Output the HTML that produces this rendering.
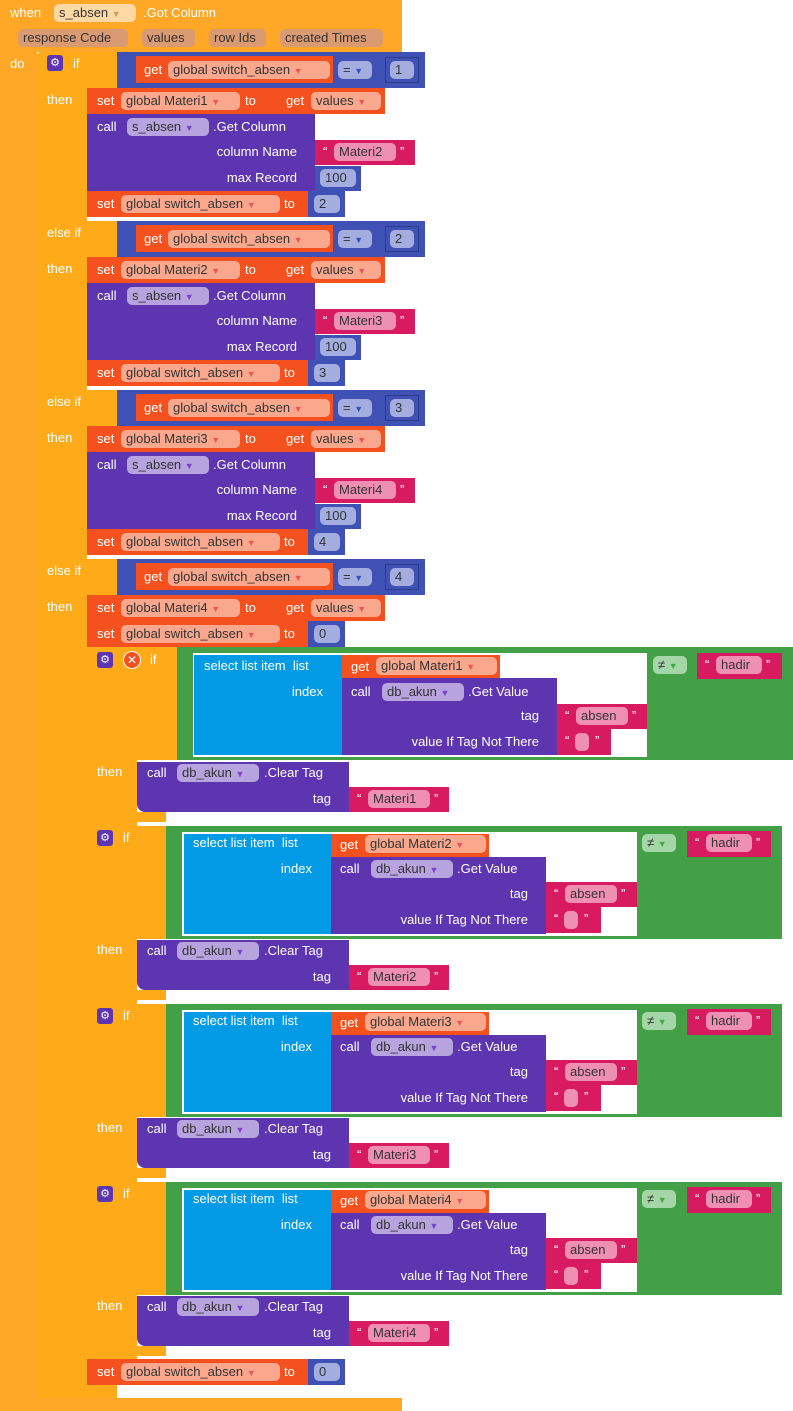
<!DOCTYPE html>
<html><head><meta charset="utf-8"><style>
body{margin:0;width:793px;height:1411px;background:#fff;position:relative;overflow:hidden}
.b{position:absolute;box-sizing:border-box}
.t{position:absolute;color:#fff;font:13px/16px "Liberation Sans",sans-serif;white-space:nowrap}
.p{position:absolute;height:18px;border-radius:5px;font:13px/18px "Liberation Sans",sans-serif;color:#333;padding:0 5px;box-sizing:border-box;white-space:nowrap}
.ev{background:#FFA726}.iff{background:#FFAB19}.rd{background:#F4511E}.bl{background:#3F51B5}.pu{background:#5E35B1}.pk{background:#D81B60}.gr{background:#43A047}.cy{background:#039BE5}
.prd{background:#F9A88E}.pbl{background:#A4ADE0}.ppu{background:#B7A3DD}.ppk{background:#EF90B3}.pgr{background:#A5D6A7}.pev{background:#DA9A72}
.gear{position:absolute;width:16px;height:16px;border-radius:3px;background:#5E35B1;color:#fff;font:11px/16px "DejaVu Sans",sans-serif;text-align:center}
.r{text-align:right}
</style></head><body>
<!-- outer event -->
<div class="b ev" style="left:0;top:0;width:402px;height:52px"></div>
<div class="b ev" style="left:0;top:0;width:37px;height:1411px"></div>
<div class="b ev" style="left:0;top:1398px;width:402px;height:13px"></div>
<div class="t" style="left:10px;top:5px">when</div>
<div class="p" style="left:54px;top:4px;width:82px;background:#FFD9A3">s_absen <span style="font-size:9px;color:#c96">▼</span></div>
<div class="t" style="left:143px;top:5px">.Got Column</div>
<div class="p pev" style="left:18px;top:29px;width:110px">response Code</div>
<div class="p pev" style="left:142px;top:29px;width:53px">values</div>
<div class="p pev" style="left:209px;top:29px;width:57px">row Ids</div>
<div class="p pev" style="left:280px;top:29px;width:103px">created Times</div>
<div class="t" style="left:10px;top:56px">do</div>
<!-- main if -->
<div class="b iff" style="left:37px;top:52px;width:50px;height:1346px;border-radius:4px 0 0 4px"></div>
<div class="b iff" style="left:37px;top:1385px;width:80px;height:13px"></div>
<div class="gear" style="left:47px;top:55px">⚙</div>

<!-- section template repeated -->
<!-- S1 y0=52 -->
<div class="b iff" style="left:87px;top:52px;width:30px;height:36px"></div>
<div class="t" style="left:73px;top:56px">if</div>
<div class="t" style="left:47px;top:92px">then</div>
<div class="b bl" style="left:117px;top:52px;width:308px;height:36px"></div>
<div class="b rd" style="left:136px;top:56px;width:197px;height:27px"></div>
<div class="t" style="left:144px;top:62px">get</div>
<div class="p prd" style="left:168px;top:61px;width:162px">global switch_absen <span style="font-size:9px;color:#e55">▼</span></div>
<div class="p pbl" style="left:338px;top:61px;width:34px">= <span style="font-size:9px;color:#35b">▼</span></div>
<div class="b bl" style="left:385px;top:57px;width:34px;height:26px;border:1px solid #2c3a8a"></div>
<div class="p pbl" style="left:390px;top:61px;width:24px">1</div>
<div class="b rd" style="left:87px;top:88px;width:298px;height:26px"></div>
<div class="t" style="left:97px;top:93px">set</div>
<div class="p prd" style="left:121px;top:92px;width:119px">global Materi1 <span style="font-size:9px;color:#e55">▼</span></div>
<div class="t" style="left:245px;top:93px">to</div>
<div class="t" style="left:286px;top:93px">get</div>
<div class="p prd" style="left:311px;top:92px;width:70px">values <span style="font-size:9px;color:#e55">▼</span></div>
<div class="b pu" style="left:87px;top:114px;width:228px;height:77px"></div>
<div class="t" style="left:97px;top:119px">call</div>
<div class="p ppu" style="left:127px;top:118px;width:82px">s_absen <span style="font-size:9px;color:#74c">▼</span></div>
<div class="t" style="left:213px;top:119px">.Get Column</div>
<div class="t r" style="left:150px;width:147px;top:144px">column Name</div>
<div class="t r" style="left:150px;width:147px;top:170px">max Record</div>
<div class="b pk" style="left:315px;top:140px;width:100px;height:25px"></div>
<div class="t" style="left:323px;top:144px">“</div>
<div class="p ppk" style="left:334px;top:143px;width:62px">Materi2</div>
<div class="t" style="left:400px;top:144px">”</div>
<div class="b bl" style="left:315px;top:166px;width:46px;height:25px"></div>
<div class="p pbl" style="left:320px;top:169px;width:36px">100</div>
<div class="b rd" style="left:87px;top:191px;width:221px;height:26px"></div>
<div class="t" style="left:97px;top:196px">set</div>
<div class="p prd" style="left:121px;top:195px;width:159px">global switch_absen <span style="font-size:9px;color:#e55">▼</span></div>
<div class="t" style="left:284px;top:196px">to</div>
<div class="b bl" style="left:308px;top:191px;width:37px;height:26px"></div>
<div class="p pbl" style="left:314px;top:195px;width:26px">2</div>

<!-- S2 y0=221 -->
<div class="b iff" style="left:87px;top:221px;width:30px;height:36px"></div>
<div class="t" style="left:47px;top:225px">else if</div>
<div class="t" style="left:47px;top:261px">then</div>
<div class="b bl" style="left:117px;top:221px;width:308px;height:36px"></div>
<div class="b rd" style="left:136px;top:225px;width:197px;height:27px"></div>
<div class="t" style="left:144px;top:231px">get</div>
<div class="p prd" style="left:168px;top:230px;width:162px">global switch_absen <span style="font-size:9px;color:#e55">▼</span></div>
<div class="p pbl" style="left:338px;top:230px;width:34px">= <span style="font-size:9px;color:#35b">▼</span></div>
<div class="b bl" style="left:385px;top:226px;width:34px;height:26px;border:1px solid #2c3a8a"></div>
<div class="p pbl" style="left:390px;top:230px;width:24px">2</div>
<div class="b rd" style="left:87px;top:257px;width:298px;height:26px"></div>
<div class="t" style="left:97px;top:262px">set</div>
<div class="p prd" style="left:121px;top:261px;width:119px">global Materi2 <span style="font-size:9px;color:#e55">▼</span></div>
<div class="t" style="left:245px;top:262px">to</div>
<div class="t" style="left:286px;top:262px">get</div>
<div class="p prd" style="left:311px;top:261px;width:70px">values <span style="font-size:9px;color:#e55">▼</span></div>
<div class="b pu" style="left:87px;top:283px;width:228px;height:77px"></div>
<div class="t" style="left:97px;top:288px">call</div>
<div class="p ppu" style="left:127px;top:287px;width:82px">s_absen <span style="font-size:9px;color:#74c">▼</span></div>
<div class="t" style="left:213px;top:288px">.Get Column</div>
<div class="t r" style="left:150px;width:147px;top:313px">column Name</div>
<div class="t r" style="left:150px;width:147px;top:339px">max Record</div>
<div class="b pk" style="left:315px;top:309px;width:100px;height:25px"></div>
<div class="t" style="left:323px;top:313px">“</div>
<div class="p ppk" style="left:334px;top:312px;width:62px">Materi3</div>
<div class="t" style="left:400px;top:313px">”</div>
<div class="b bl" style="left:315px;top:335px;width:46px;height:25px"></div>
<div class="p pbl" style="left:320px;top:338px;width:36px">100</div>
<div class="b rd" style="left:87px;top:360px;width:221px;height:26px"></div>
<div class="t" style="left:97px;top:365px">set</div>
<div class="p prd" style="left:121px;top:364px;width:159px">global switch_absen <span style="font-size:9px;color:#e55">▼</span></div>
<div class="t" style="left:284px;top:365px">to</div>
<div class="b bl" style="left:308px;top:360px;width:37px;height:26px"></div>
<div class="p pbl" style="left:314px;top:364px;width:26px">3</div>

<!-- S3 y0=390 -->
<div class="b iff" style="left:87px;top:390px;width:30px;height:36px"></div>
<div class="t" style="left:47px;top:394px">else if</div>
<div class="t" style="left:47px;top:430px">then</div>
<div class="b bl" style="left:117px;top:390px;width:308px;height:36px"></div>
<div class="b rd" style="left:136px;top:394px;width:197px;height:27px"></div>
<div class="t" style="left:144px;top:400px">get</div>
<div class="p prd" style="left:168px;top:399px;width:162px">global switch_absen <span style="font-size:9px;color:#e55">▼</span></div>
<div class="p pbl" style="left:338px;top:399px;width:34px">= <span style="font-size:9px;color:#35b">▼</span></div>
<div class="b bl" style="left:385px;top:395px;width:34px;height:26px;border:1px solid #2c3a8a"></div>
<div class="p pbl" style="left:390px;top:399px;width:24px">3</div>
<div class="b rd" style="left:87px;top:426px;width:298px;height:26px"></div>
<div class="t" style="left:97px;top:431px">set</div>
<div class="p prd" style="left:121px;top:430px;width:119px">global Materi3 <span style="font-size:9px;color:#e55">▼</span></div>
<div class="t" style="left:245px;top:431px">to</div>
<div class="t" style="left:286px;top:431px">get</div>
<div class="p prd" style="left:311px;top:430px;width:70px">values <span style="font-size:9px;color:#e55">▼</span></div>
<div class="b pu" style="left:87px;top:452px;width:228px;height:77px"></div>
<div class="t" style="left:97px;top:457px">call</div>
<div class="p ppu" style="left:127px;top:456px;width:82px">s_absen <span style="font-size:9px;color:#74c">▼</span></div>
<div class="t" style="left:213px;top:457px">.Get Column</div>
<div class="t r" style="left:150px;width:147px;top:482px">column Name</div>
<div class="t r" style="left:150px;width:147px;top:508px">max Record</div>
<div class="b pk" style="left:315px;top:478px;width:100px;height:25px"></div>
<div class="t" style="left:323px;top:482px">“</div>
<div class="p ppk" style="left:334px;top:481px;width:62px">Materi4</div>
<div class="t" style="left:400px;top:482px">”</div>
<div class="b bl" style="left:315px;top:504px;width:46px;height:25px"></div>
<div class="p pbl" style="left:320px;top:507px;width:36px">100</div>
<div class="b rd" style="left:87px;top:529px;width:221px;height:26px"></div>
<div class="t" style="left:97px;top:534px">set</div>
<div class="p prd" style="left:121px;top:533px;width:159px">global switch_absen <span style="font-size:9px;color:#e55">▼</span></div>
<div class="t" style="left:284px;top:534px">to</div>
<div class="b bl" style="left:308px;top:529px;width:37px;height:26px"></div>
<div class="p pbl" style="left:314px;top:533px;width:26px">4</div>

<!-- S4 y0=559 -->
<div class="b iff" style="left:87px;top:559px;width:30px;height:36px"></div>
<div class="t" style="left:47px;top:563px">else if</div>
<div class="t" style="left:47px;top:599px">then</div>
<div class="b bl" style="left:117px;top:559px;width:308px;height:36px"></div>
<div class="b rd" style="left:136px;top:563px;width:197px;height:27px"></div>
<div class="t" style="left:144px;top:569px">get</div>
<div class="p prd" style="left:168px;top:568px;width:162px">global switch_absen <span style="font-size:9px;color:#e55">▼</span></div>
<div class="p pbl" style="left:338px;top:568px;width:34px">= <span style="font-size:9px;color:#35b">▼</span></div>
<div class="b bl" style="left:385px;top:564px;width:34px;height:26px;border:1px solid #2c3a8a"></div>
<div class="p pbl" style="left:390px;top:568px;width:24px">4</div>
<div class="b rd" style="left:87px;top:595px;width:298px;height:26px"></div>
<div class="t" style="left:97px;top:600px">set</div>
<div class="p prd" style="left:121px;top:599px;width:119px">global Materi4 <span style="font-size:9px;color:#e55">▼</span></div>
<div class="t" style="left:245px;top:600px">to</div>
<div class="t" style="left:286px;top:600px">get</div>
<div class="p prd" style="left:311px;top:599px;width:70px">values <span style="font-size:9px;color:#e55">▼</span></div>
<div class="b rd" style="left:87px;top:621px;width:221px;height:26px"></div>
<div class="t" style="left:97px;top:626px">set</div>
<div class="p prd" style="left:121px;top:625px;width:159px">global switch_absen <span style="font-size:9px;color:#e55">▼</span></div>
<div class="t" style="left:284px;top:626px">to</div>
<div class="b bl" style="left:308px;top:621px;width:37px;height:26px"></div>
<div class="p pbl" style="left:314px;top:625px;width:26px">0</div>

<!-- nested ifs: strip -->
<div class="b iff" style="left:87px;top:647px;width:50px;height:712px"></div>

<!-- N1 T=647 -->
<div class="b iff" style="left:87px;top:647px;width:90px;height:113px"></div>
<div class="b iff" style="left:87px;top:812px;width:79px;height:10px"></div>
<div class="gear" style="left:97px;top:652px">⚙</div>
<div class="b" style="left:123px;top:651px;width:18px;height:18px;border-radius:9px;background:#F4511E;border:1px solid #fff;color:#fff;font:bold 12px/16px 'DejaVu Sans';text-align:center">✕</div>
<div class="t" style="left:150px;top:652px">if</div>
<div class="b gr" style="left:177px;top:647px;width:616px;height:113px"></div>
<div class="b" style="left:193px;top:653px;width:454px;height:104px;background:#fff"></div>
<div class="b cy" style="left:194px;top:655px;width:148px;height:100px"></div>
<div class="t" style="left:204px;top:658px">select list item&nbsp; list</div>
<div class="t r" style="left:200px;width:123px;top:684px">index</div>
<div class="b rd" style="left:342px;top:655px;width:158px;height:23px"></div>
<div class="t" style="left:351px;top:659px">get</div>
<div class="p prd" style="left:376px;top:657px;width:121px">global Materi1 <span style="font-size:9px;color:#e55">▼</span></div>
<div class="b pu" style="left:342px;top:678px;width:215px;height:77px"></div>
<div class="t" style="left:351px;top:684px">call</div>
<div class="p ppu" style="left:382px;top:683px;width:82px">db_akun <span style="font-size:9px;color:#74c">▼</span></div>
<div class="t" style="left:468px;top:684px">.Get Value</div>
<div class="t r" style="left:380px;width:159px;top:708px">tag</div>
<div class="t r" style="left:380px;width:159px;top:734px">value If Tag Not There</div>
<div class="b pk" style="left:557px;top:704px;width:90px;height:25px"></div>
<div class="t" style="left:565px;top:708px">“</div>
<div class="p ppk" style="left:576px;top:707px;width:52px">absen</div>
<div class="t" style="left:632px;top:708px">”</div>
<div class="b pk" style="left:557px;top:729px;width:54px;height:26px"></div>
<div class="t" style="left:565px;top:733px">“</div>
<div class="p ppk" style="left:575px;top:733px;width:14px"></div>
<div class="t" style="left:595px;top:733px">”</div>
<div class="p pgr" style="left:653px;top:656px;width:34px">≠ <span style="font-size:9px;color:#4a4">▼</span></div>
<div class="b pk" style="left:697px;top:653px;width:85px;height:26px"></div>
<div class="t" style="left:705px;top:657px">“</div>
<div class="p ppk" style="left:716px;top:656px;width:46px">hadir</div>
<div class="t" style="left:766px;top:657px">”</div>
<div class="t" style="left:97px;top:764px">then</div>
<div class="b pu" style="left:137px;top:762px;width:212px;height:50px;border-radius:0 0 0 8px"></div>
<div class="t" style="left:147px;top:765px">call</div>
<div class="p ppu" style="left:177px;top:764px;width:82px">db_akun <span style="font-size:9px;color:#74c">▼</span></div>
<div class="t" style="left:264px;top:765px">.Clear Tag</div>
<div class="t r" style="left:250px;width:81px;top:791px">tag</div>
<div class="b pk" style="left:349px;top:787px;width:100px;height:25px"></div>
<div class="t" style="left:357px;top:791px">“</div>
<div class="p ppk" style="left:368px;top:790px;width:62px">Materi1</div>
<div class="t" style="left:434px;top:791px">”</div>

<!-- N2 T=826 -->
<div class="b iff" style="left:87px;top:826px;width:79px;height:113px"></div>
<div class="b iff" style="left:87px;top:990px;width:79px;height:10px"></div>
<div class="gear" style="left:97px;top:830px">⚙</div>
<div class="t" style="left:123px;top:830px">if</div>
<div class="b gr" style="left:166px;top:826px;width:616px;height:113px"></div>
<div class="b" style="left:182px;top:832px;width:455px;height:104px;background:#fff"></div>
<div class="b cy" style="left:184px;top:834px;width:147px;height:100px"></div>
<div class="t" style="left:193px;top:835px">select list item&nbsp; list</div>
<div class="t r" style="left:190px;width:122px;top:861px">index</div>
<div class="b rd" style="left:331px;top:834px;width:158px;height:23px"></div>
<div class="t" style="left:340px;top:837px">get</div>
<div class="p prd" style="left:365px;top:835px;width:121px">global Materi2 <span style="font-size:9px;color:#e55">▼</span></div>
<div class="b pu" style="left:331px;top:857px;width:215px;height:77px"></div>
<div class="t" style="left:340px;top:861px">call</div>
<div class="p ppu" style="left:371px;top:860px;width:82px">db_akun <span style="font-size:9px;color:#74c">▼</span></div>
<div class="t" style="left:457px;top:861px">.Get Value</div>
<div class="t r" style="left:370px;width:158px;top:886px">tag</div>
<div class="t r" style="left:370px;width:158px;top:912px">value If Tag Not There</div>
<div class="b pk" style="left:546px;top:882px;width:91px;height:25px"></div>
<div class="t" style="left:554px;top:886px">“</div>
<div class="p ppk" style="left:565px;top:885px;width:52px">absen</div>
<div class="t" style="left:621px;top:886px">”</div>
<div class="b pk" style="left:546px;top:907px;width:55px;height:26px"></div>
<div class="t" style="left:554px;top:911px">“</div>
<div class="p ppk" style="left:564px;top:911px;width:14px"></div>
<div class="t" style="left:584px;top:911px">”</div>
<div class="p pgr" style="left:642px;top:834px;width:34px">≠ <span style="font-size:9px;color:#4a4">▼</span></div>
<div class="b pk" style="left:687px;top:831px;width:84px;height:26px"></div>
<div class="t" style="left:695px;top:835px">“</div>
<div class="p ppk" style="left:706px;top:834px;width:46px">hadir</div>
<div class="t" style="left:756px;top:835px">”</div>
<div class="t" style="left:97px;top:942px">then</div>
<div class="b pu" style="left:137px;top:940px;width:212px;height:50px;border-radius:0 0 0 8px"></div>
<div class="t" style="left:147px;top:943px">call</div>
<div class="p ppu" style="left:177px;top:942px;width:82px">db_akun <span style="font-size:9px;color:#74c">▼</span></div>
<div class="t" style="left:264px;top:943px">.Clear Tag</div>
<div class="t r" style="left:250px;width:81px;top:969px">tag</div>
<div class="b pk" style="left:349px;top:965px;width:100px;height:25px"></div>
<div class="t" style="left:357px;top:969px">“</div>
<div class="p ppk" style="left:368px;top:968px;width:62px">Materi2</div>
<div class="t" style="left:434px;top:969px">”</div>

<!-- N3 T=1004 -->
<div class="b iff" style="left:87px;top:1004px;width:79px;height:113px"></div>
<div class="b iff" style="left:87px;top:1168px;width:79px;height:10px"></div>
<div class="gear" style="left:97px;top:1008px">⚙</div>
<div class="t" style="left:123px;top:1008px">if</div>
<div class="b gr" style="left:166px;top:1004px;width:616px;height:113px"></div>
<div class="b" style="left:182px;top:1010px;width:455px;height:104px;background:#fff"></div>
<div class="b cy" style="left:184px;top:1012px;width:147px;height:100px"></div>
<div class="t" style="left:193px;top:1013px">select list item&nbsp; list</div>
<div class="t r" style="left:190px;width:122px;top:1039px">index</div>
<div class="b rd" style="left:331px;top:1012px;width:158px;height:23px"></div>
<div class="t" style="left:340px;top:1015px">get</div>
<div class="p prd" style="left:365px;top:1013px;width:121px">global Materi3 <span style="font-size:9px;color:#e55">▼</span></div>
<div class="b pu" style="left:331px;top:1035px;width:215px;height:77px"></div>
<div class="t" style="left:340px;top:1039px">call</div>
<div class="p ppu" style="left:371px;top:1038px;width:82px">db_akun <span style="font-size:9px;color:#74c">▼</span></div>
<div class="t" style="left:457px;top:1039px">.Get Value</div>
<div class="t r" style="left:370px;width:158px;top:1064px">tag</div>
<div class="t r" style="left:370px;width:158px;top:1090px">value If Tag Not There</div>
<div class="b pk" style="left:546px;top:1060px;width:91px;height:25px"></div>
<div class="t" style="left:554px;top:1064px">“</div>
<div class="p ppk" style="left:565px;top:1063px;width:52px">absen</div>
<div class="t" style="left:621px;top:1064px">”</div>
<div class="b pk" style="left:546px;top:1085px;width:55px;height:26px"></div>
<div class="t" style="left:554px;top:1089px">“</div>
<div class="p ppk" style="left:564px;top:1089px;width:14px"></div>
<div class="t" style="left:584px;top:1089px">”</div>
<div class="p pgr" style="left:642px;top:1012px;width:34px">≠ <span style="font-size:9px;color:#4a4">▼</span></div>
<div class="b pk" style="left:687px;top:1009px;width:84px;height:26px"></div>
<div class="t" style="left:695px;top:1013px">“</div>
<div class="p ppk" style="left:706px;top:1012px;width:46px">hadir</div>
<div class="t" style="left:756px;top:1013px">”</div>
<div class="t" style="left:97px;top:1120px">then</div>
<div class="b pu" style="left:137px;top:1118px;width:212px;height:50px;border-radius:0 0 0 8px"></div>
<div class="t" style="left:147px;top:1121px">call</div>
<div class="p ppu" style="left:177px;top:1120px;width:82px">db_akun <span style="font-size:9px;color:#74c">▼</span></div>
<div class="t" style="left:264px;top:1121px">.Clear Tag</div>
<div class="t r" style="left:250px;width:81px;top:1147px">tag</div>
<div class="b pk" style="left:349px;top:1143px;width:100px;height:25px"></div>
<div class="t" style="left:357px;top:1147px">“</div>
<div class="p ppk" style="left:368px;top:1146px;width:62px">Materi3</div>
<div class="t" style="left:434px;top:1147px">”</div>

<!-- N4 T=1182 -->
<div class="b iff" style="left:87px;top:1182px;width:79px;height:113px"></div>
<div class="b iff" style="left:87px;top:1346px;width:79px;height:10px"></div>
<div class="gear" style="left:97px;top:1186px">⚙</div>
<div class="t" style="left:123px;top:1186px">if</div>
<div class="b gr" style="left:166px;top:1182px;width:616px;height:113px"></div>
<div class="b" style="left:182px;top:1188px;width:455px;height:104px;background:#fff"></div>
<div class="b cy" style="left:184px;top:1190px;width:147px;height:100px"></div>
<div class="t" style="left:193px;top:1191px">select list item&nbsp; list</div>
<div class="t r" style="left:190px;width:122px;top:1217px">index</div>
<div class="b rd" style="left:331px;top:1190px;width:158px;height:23px"></div>
<div class="t" style="left:340px;top:1193px">get</div>
<div class="p prd" style="left:365px;top:1191px;width:121px">global Materi4 <span style="font-size:9px;color:#e55">▼</span></div>
<div class="b pu" style="left:331px;top:1213px;width:215px;height:77px"></div>
<div class="t" style="left:340px;top:1217px">call</div>
<div class="p ppu" style="left:371px;top:1216px;width:82px">db_akun <span style="font-size:9px;color:#74c">▼</span></div>
<div class="t" style="left:457px;top:1217px">.Get Value</div>
<div class="t r" style="left:370px;width:158px;top:1242px">tag</div>
<div class="t r" style="left:370px;width:158px;top:1268px">value If Tag Not There</div>
<div class="b pk" style="left:546px;top:1238px;width:91px;height:25px"></div>
<div class="t" style="left:554px;top:1242px">“</div>
<div class="p ppk" style="left:565px;top:1241px;width:52px">absen</div>
<div class="t" style="left:621px;top:1242px">”</div>
<div class="b pk" style="left:546px;top:1263px;width:55px;height:26px"></div>
<div class="t" style="left:554px;top:1267px">“</div>
<div class="p ppk" style="left:564px;top:1267px;width:14px"></div>
<div class="t" style="left:584px;top:1267px">”</div>
<div class="p pgr" style="left:642px;top:1190px;width:34px">≠ <span style="font-size:9px;color:#4a4">▼</span></div>
<div class="b pk" style="left:687px;top:1187px;width:84px;height:26px"></div>
<div class="t" style="left:695px;top:1191px">“</div>
<div class="p ppk" style="left:706px;top:1190px;width:46px">hadir</div>
<div class="t" style="left:756px;top:1191px">”</div>
<div class="t" style="left:97px;top:1298px">then</div>
<div class="b pu" style="left:137px;top:1296px;width:212px;height:50px;border-radius:0 0 0 8px"></div>
<div class="t" style="left:147px;top:1299px">call</div>
<div class="p ppu" style="left:177px;top:1298px;width:82px">db_akun <span style="font-size:9px;color:#74c">▼</span></div>
<div class="t" style="left:264px;top:1299px">.Clear Tag</div>
<div class="t r" style="left:250px;width:81px;top:1325px">tag</div>
<div class="b pk" style="left:349px;top:1321px;width:100px;height:25px"></div>
<div class="t" style="left:357px;top:1325px">“</div>
<div class="p ppk" style="left:368px;top:1324px;width:62px">Materi4</div>
<div class="t" style="left:434px;top:1325px">”</div>

<!-- final set -->
<div class="b rd" style="left:87px;top:1359px;width:221px;height:26px"></div>
<div class="t" style="left:97px;top:1364px">set</div>
<div class="p prd" style="left:121px;top:1363px;width:159px">global switch_absen <span style="font-size:9px;color:#e55">▼</span></div>
<div class="t" style="left:284px;top:1364px">to</div>
<div class="b bl" style="left:308px;top:1359px;width:37px;height:26px"></div>
<div class="p pbl" style="left:314px;top:1363px;width:26px">0</div>
</body></html>
